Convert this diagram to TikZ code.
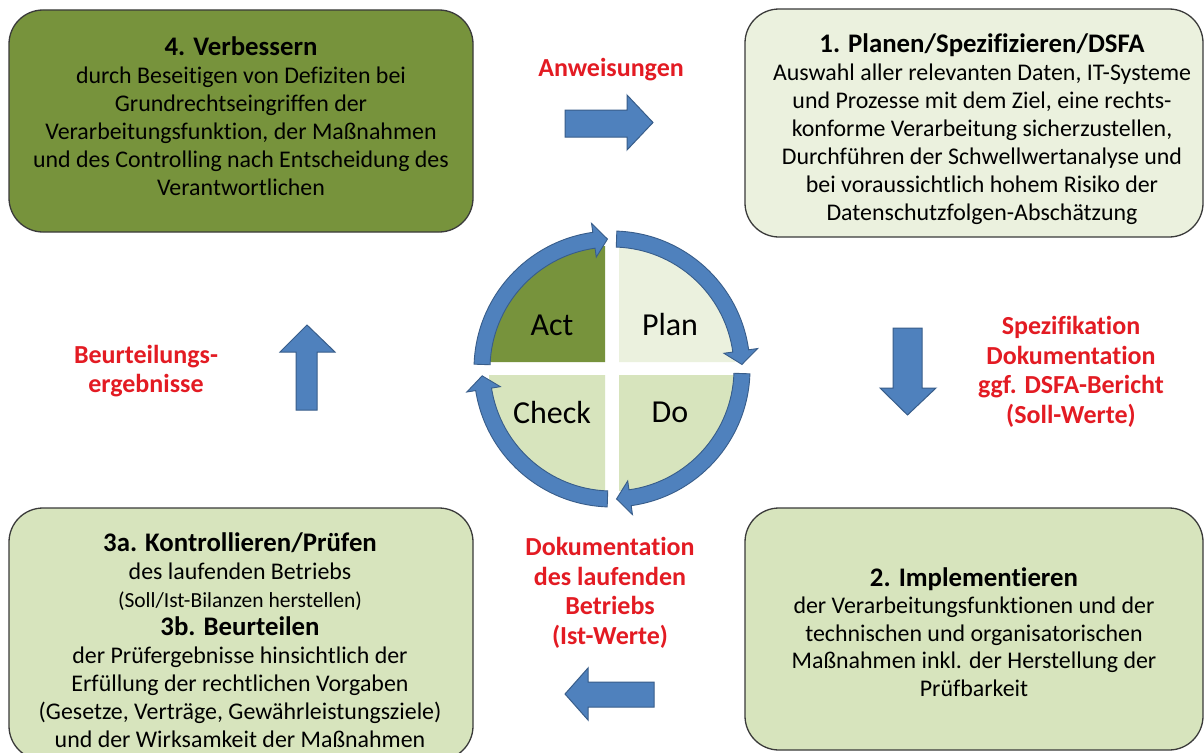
\documentclass[tikz,border=0pt]{standalone}
\usepackage{fontspec}
\setmainfont{Carlito}[Ligatures=NoCommon]
\usetikzlibrary{calc}
\definecolor{actgreen}{HTML}{77933C}
\definecolor{plangreen}{HTML}{EBF1DE}
\definecolor{dogreen}{HTML}{D7E4BD}
\definecolor{arrowblue}{HTML}{4F81BD}
\definecolor{arrowedge}{HTML}{385D8A}
\definecolor{labelred}{HTML}{E31B23}
\definecolor{boxedge}{HTML}{3A3A3A}
\newcommand\pdcaarrow[2]{%
  \pgfmathsetmacro\pdcaab{#2-6}%
  \draw[ringarrow] ($(c)+(#1:138)$) arc[start angle=#1, end angle=\pdcaab, radius=138]
    -- ($(c)+(\pdcaab:147)$) -- ($(c)+(#2:130)$) -- ($(c)+(\pdcaab:113)$)
    -- ($(c)+(\pdcaab:122)$) arc[start angle=\pdcaab, end angle=#1, radius=122] -- cycle;%
}
\begin{document}
\begin{tikzpicture}[x=1pt,y=-1pt,
  box/.style={draw=boxedge, line width=1.3pt, rounded corners=34pt, inner sep=0pt},
  boxtext/.style={align=center, inner sep=0pt, text=black, font=\fontsize{23.9}{28}\selectfont},
  redlabel/.style={align=center, inner sep=0pt, text=labelred, font=\bfseries\fontsize{26}{29.5}\selectfont},
  blockarrow/.style={fill=arrowblue, draw=arrowedge, line width=1pt, line join=miter},
  ringarrow/.style={fill=arrowblue, draw=arrowedge, line width=0.9pt, line join=miter},
  quadlabel/.style={inner sep=0pt, text=black, font=\fontsize{32}{36}\selectfont},
]
\useasboundingbox (0,0) rectangle (1204,752);
\clip (0,0) rectangle (1204,752);
\fill[white] (0,0) rectangle (1204,752);

% boxes
\node[box, fill=actgreen, minimum width=464, minimum height=222] (b4) at (241,121) {};
\node[box, fill=plangreen, minimum width=458, minimum height=228] (b1) at (974,123) {};
\node[box, fill=dogreen, minimum width=464, minimum height=252] (b3) at (241,634) {};
\node[box, fill=dogreen, minimum width=458, minimum height=242] (b2) at (974,629) {};

% box texts
\node[boxtext] (t4) at (241,116) {{\bfseries\fontsize{26.8}{28}\selectfont 4. Verbessern}\\
durch Beseitigen von Defiziten bei\\
Grundrechtseingriffen der\\
Verarbeitungsfunktion, der Maßnahmen\\
und des Controlling nach Entscheidung des\\
Verantwortlichen};

\node[boxtext] (t1) at (982,129) {{\bfseries\fontsize{26.8}{28}\selectfont 1. Planen/Spezifizieren/DSFA}\\
Auswahl aller relevanten Daten, IT-Systeme\\
und Prozesse mit dem Ziel, eine rechts-\\
konforme Verarbeitung sicherzustellen,\\
Durchführen der Schwellwertanalyse und\\
bei voraussichtlich hohem Risiko der\\
Datenschutzfolgen-Abschätzung};

\node[boxtext, font=\fontsize{23.9}{28}\selectfont] (t3) at (240,640) {{\bfseries\fontsize{26.8}{28}\selectfont 3a. Kontrollieren/Prüfen}\\
des laufenden Betriebs\\
{\fontsize{21.5}{28}\selectfont (Soll/Ist-Bilanzen herstellen)}\\
{\bfseries\fontsize{26.8}{28}\selectfont 3b. Beurteilen}\\
der Prüfergebnisse hinsichtlich der\\
Erfüllung der rechtlichen Vorgaben\\
(Gesetze, Verträge, Gewährleistungsziele)\\
und der Wirksamkeit der Maßnahmen};

\node[boxtext, font=\fontsize{23.9}{27.5}\selectfont] (t2) at (974,632) {{\bfseries\fontsize{26.8}{27.5}\selectfont 2. Implementieren}\\
der Verarbeitungsfunktionen und der\\
technischen und organisatorischen\\
Maßnahmen inkl. der Herstellung der\\
Prüfbarkeit};

% red labels
\node[redlabel] (lA) at (611,70) {Anweisungen};
\node[redlabel] (lS) at (1071,372) {Spezifikation\\Dokumentation\\ggf. DSFA-Bericht\\(Soll-Werte)};
\node[redlabel] (lB) at (146,371) {Beurteilungs-\\ergebnisse};
\node[redlabel] (lD) at (610,593) {Dokumentation\\des laufenden\\Betriebs\\(Ist-Werte)};

% block arrows
\draw[blockarrow] (565,110) -- (627,110) -- (627,95) -- (653,122.5) -- (627,150) -- (627,137) -- (565,137) -- cycle;
\draw[blockarrow] (893,328) -- (922,328) -- (922,388) -- (936,388) -- (907.5,415) -- (880,388) -- (893,388) -- cycle;
\draw[blockarrow] (296,410) -- (317,410) -- (317,352) -- (335,352) -- (307,325) -- (280,352) -- (296,352) -- cycle;
\draw[blockarrow] (654,682) -- (588,682) -- (588,668) -- (565,694) -- (588,720) -- (588,707) -- (654,707) -- cycle;

% PDCA centre
\coordinate (c) at (612,369);
\fill[actgreen]   (605,362) -- ++(180:116) arc[start angle=180, end angle=270, radius=116] -- cycle;
\fill[plangreen]  (619,362) -- ++(270:116) arc[start angle=270, end angle=360, radius=116] -- cycle;
\fill[dogreen]    (619,375) -- ++(0:116)   arc[start angle=0,   end angle=90,  radius=116] -- cycle;
\fill[dogreen]    (605,375) -- ++(90:116)  arc[start angle=90,  end angle=180, radius=116] -- cycle;

\pdcaarrow{182}{268}
\pdcaarrow{272}{358}
\pdcaarrow{2}{88}
\pdcaarrow{92}{177}

\node[quadlabel] (qA) at (552,325) {Act};
\node[quadlabel] (qP) at (670,325) {Plan};
\node[quadlabel] (qC) at (552,412) {Check};
\node[quadlabel] (qD) at (670,412) {Do};
\end{tikzpicture}
\end{document}
